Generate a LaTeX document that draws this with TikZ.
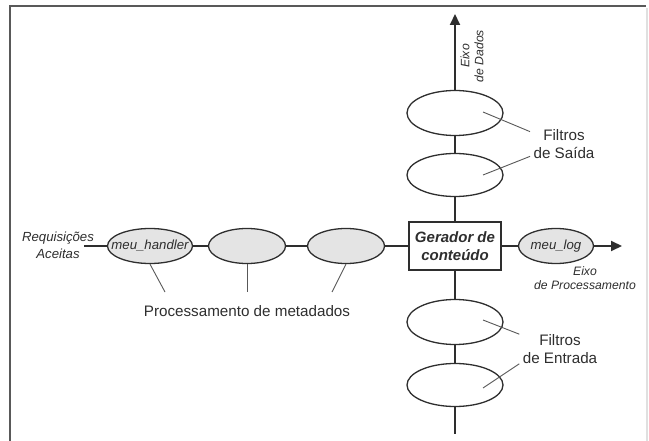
\documentclass[tikz,border=0pt]{standalone}
\usepackage{fontspec}
\setmainfont{Liberation Sans}
\usetikzlibrary{positioning, arrows.meta, shapes.geometric, calc}
\definecolor{ink}{HTML}{2E2E2E}
\definecolor{fillgray}{HTML}{E4E4E4}
\tikzset{
  axis/.style={draw=ink, line width=2pt},
  axisarr/.style={axis, -{Triangle[length=11pt, width=10pt]}},
  hfilt/.style={ellipse, draw=ink, line width=1.3pt, fill=fillgray, minimum width=85pt, minimum height=35pt, inner sep=0pt, text=ink, font=\fontsize{13.2}{15}\selectfont\itshape},
  vfilt/.style={ellipse, draw=ink, line width=1.3pt, fill=white, minimum width=96pt, minimum height=45pt},
  genbox/.style={draw=ink, line width=1.3pt, fill=white, minimum width=92pt, minimum height=48pt, align=center, inner sep=0pt, text=ink, font=\fontsize{15}{18}\selectfont\bfseries\itshape},
  lbl/.style={align=center, text=ink, font=\fontsize{15.2}{18}\selectfont},
  axlbl/.style={align=center, text=ink, font=\fontsize{12.2}{14}\selectfont\itshape},
  ptr/.style={draw=ink!80, line width=0.9pt},
  frameedge/.style={draw=black!65, line width=2pt}
}

\begin{document}
\begin{tikzpicture}[x=1pt, y=-1pt]
\useasboundingbox (0,0) rectangle (649,441);
% frame
\draw[frameedge] (10,441) -- (10,6) -- (646,6);
\draw[draw=black!12, line width=2pt] (647,8) -- (647,441);

% processing axis
\node[hfilt] (handler) at (150,246) {\makebox[0pt]{meu\_handler}};
\node[hfilt, minimum width=77pt] (meta2) at (247,246) {};
\node[hfilt, minimum width=77pt] (meta3) at (346,246) {};
\node[genbox] (gen) at (455,246) {Gerador de\\conteúdo};
\node[hfilt, minimum width=75pt] (log) at (556,246) {\makebox[0pt]{meu\_log}};
\node[axlbl, font=\fontsize{13.2}{17}\selectfont\itshape] (req) at (58,245) {Requisições\\Aceitas};
\coordinate (hin) at (84,246);
\coordinate (hout) at (622,246);

% data axis
\node[vfilt] (out1) at (455,113) {};
\node[vfilt, minimum height=43pt] (out2) at (455,175) {};
\node[vfilt] (in1) at (455,322) {};
\node[vfilt, minimum height=43pt] (in2) at (455,385) {};
\coordinate (vtop) at (455,14);
\coordinate (vbot) at (455,434);

\draw[axis] (hin) -- (handler);
\draw[axis] (handler) -- (meta2);
\draw[axis] (meta2) -- (meta3);
\draw[axis] (meta3) -- (gen);
\draw[axis] (gen) -- (log);
\draw[axisarr] (log) -- (hout);
\draw[axisarr] (out1) -- (vtop);
\draw[axis] (out1) -- (out2);
\draw[axis] (out2) -- (gen);
\draw[axis] (gen) -- (in1);
\draw[axis] (in1) -- (in2);
\draw[axis] (in2) -- (vbot);

% axis names
\node[axlbl, rotate=90] (dados) at (472,56) {Eixo\\de Dados};
\node[axlbl] (proc) at (585,278) {Eixo\\de Processamento};

% filter labels
\node[lbl] (saida) at (564,144) {Filtros\\de Saída};
\node[lbl] (entrada) at (560,349) {Filtros\\de Entrada};
\draw[ptr] ($(out1)+(28,-1)$) -- (saida.160);
\draw[ptr] ($(out2)+(28,0)$) -- (saida.200);
\draw[ptr] ($(in1)+(28,-2)$) -- (entrada.160);
\draw[ptr] ($(in2)+(28,3)$) -- (entrada.200);

% metadata label
\node[lbl] (meta) at (247,311) {Processamento de metadados};
\coordinate (m1) at (165,292);
\coordinate (m2) at (247,292);
\coordinate (m3) at (332,292);
\draw[ptr] (handler.south) -- (m1);
\draw[ptr] (meta2.south) -- (m2);
\draw[ptr] (meta3.south) -- (m3);
\end{tikzpicture}
\end{document}
